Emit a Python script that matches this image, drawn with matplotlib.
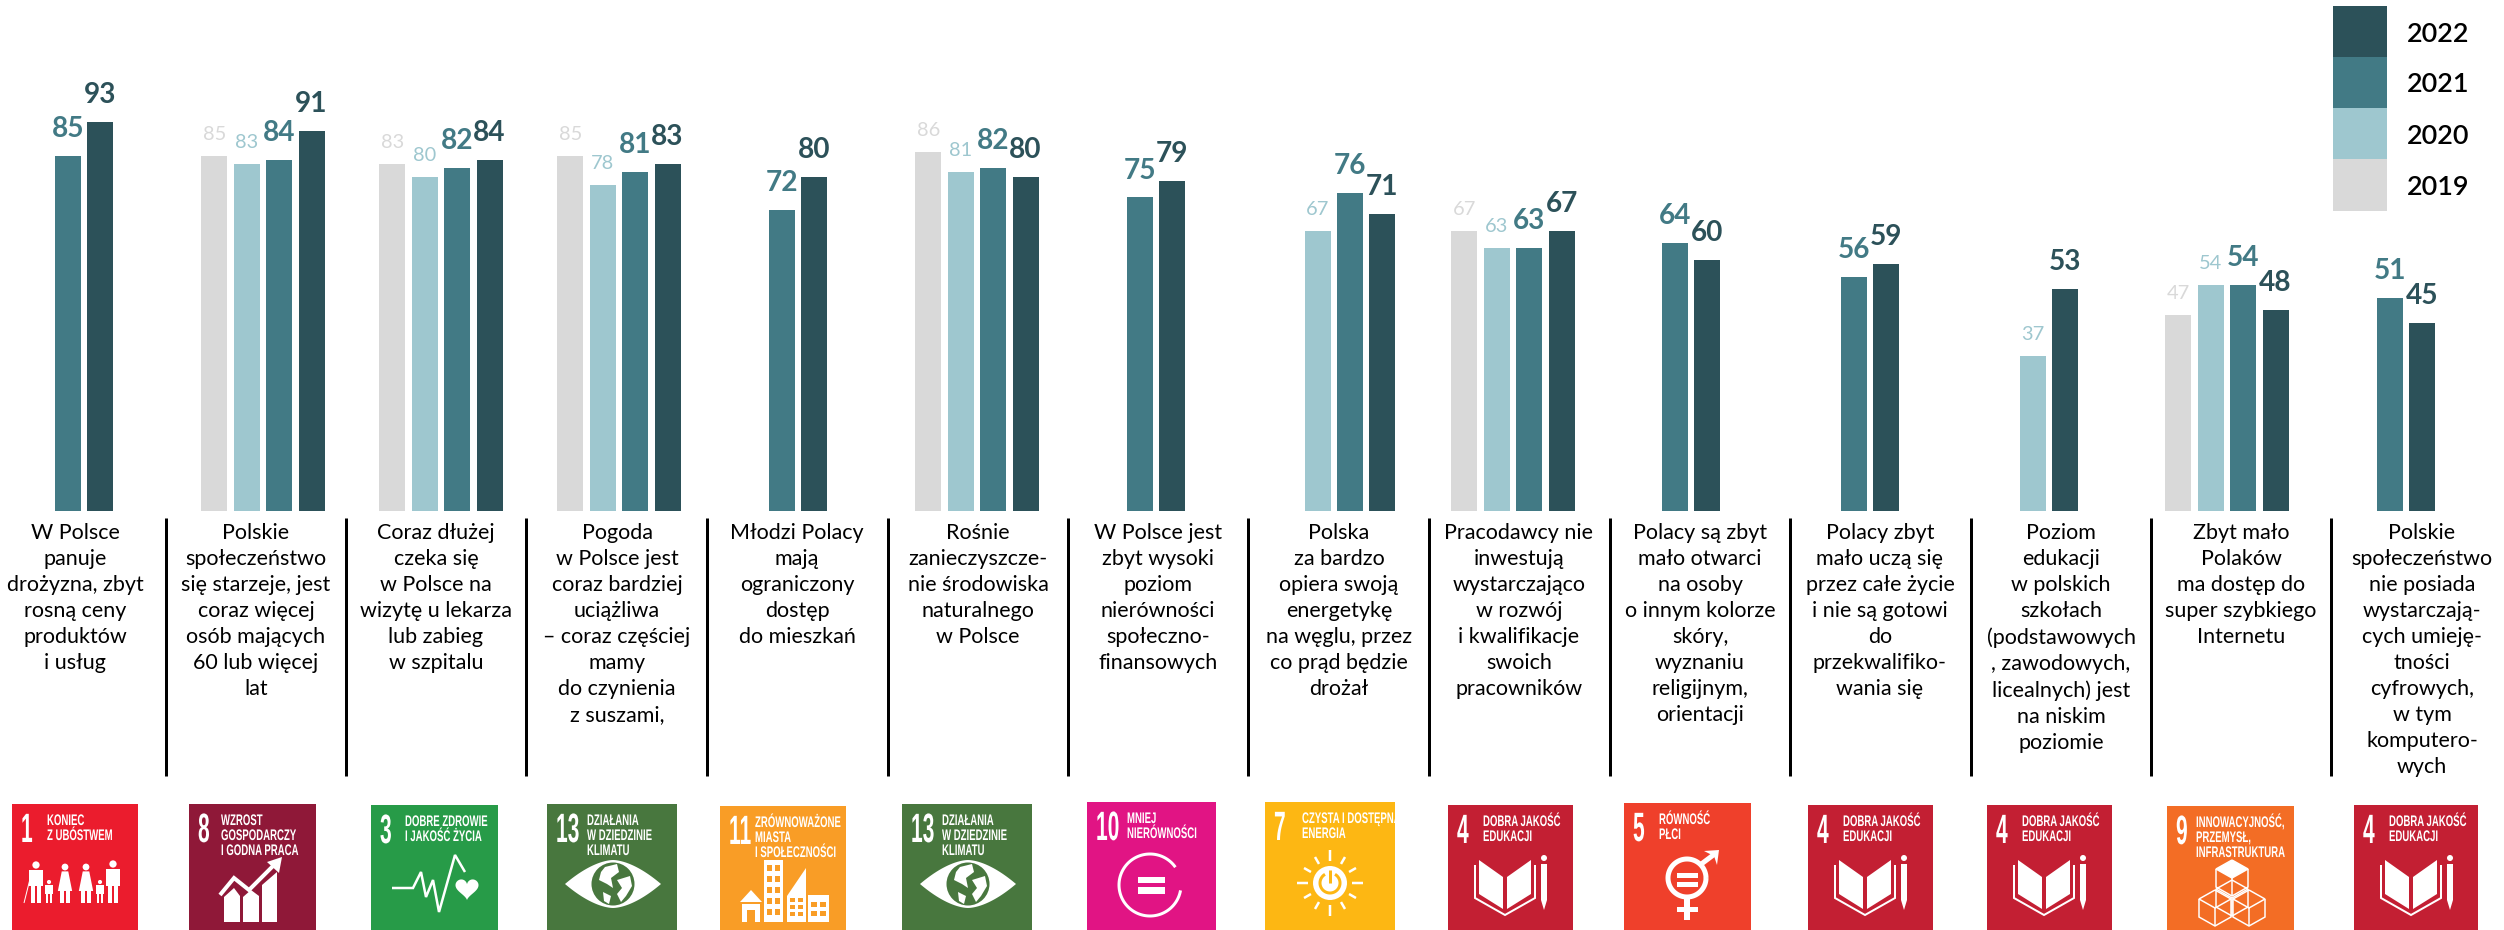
import numpy as np
import matplotlib
matplotlib.use('Agg')
import matplotlib.pyplot as plt
from matplotlib.patches import Rectangle, Polygon, Circle
from matplotlib.patheffects import AbstractPathEffect
from matplotlib.transforms import Affine2D

W, H = 2504, 930
BASE_Y = 511        # pixel row of the bars' baseline
PX_PER_UNIT = 4.18

plt.rcParams['font.family'] = ['Lato', 'DejaVu Sans']

years = ['2019', '2020', '2021', '2022']
year_colors = ['#D9D9D9', '#9EC7CF', '#427A85', '#2C5159']

values_2019 = [None, 85, 83, 85, None, 86, None, None, 67, None, None, None, 47, None]
values_2020 = [None, 83, 80, 78, None, 81, None, 67, 63, None, None, 37, 54, None]
values_2021 = [85, 84, 82, 81, 72, 82, 75, 76, 63, 64, 56, None, 54, 51]
values_2022 = [93, 91, 84, 83, 80, 80, 79, 71, 67, 60, 59, 53, 48, 45]
all_values = [values_2019, values_2020, values_2021, values_2022]

group_centers = [84, 263, 441, 619, 798, 977, 1156, 1350, 1513, 1691, 1870, 2049, 2227, 2406]
BAR_STEP = 32.4
BAR_WIDTH = 26

labels = [
    'W Polsce\npanuje\ndrożyzna, zbyt\nrosną ceny\nproduktów\ni usług',
    'Polskie\nspołeczeństwo\nsię starzeje, jest\ncoraz więcej\nosób mających\n60 lub więcej\nlat',
    'Coraz dłużej\nczeka się\nw Polsce na\nwizytę u lekarza\nlub zabieg\nw szpitalu',
    'Pogoda\nw Polsce jest\ncoraz bardziej\nuciążliwa\n– coraz częściej\nmamy\ndo czynienia\nz suszami,',
    'Młodzi Polacy\nmają\nograniczony\ndostęp\ndo mieszkań',
    'Rośnie\nzanieczyszcze-\nnie środowiska\nnaturalnego\nw Polsce',
    'W Polsce jest\nzbyt wysoki\npoziom\nnierówności\nspołeczno-\nfinansowych',
    'Polska\nza bardzo\nopiera swoją\nenergetykę\nna węglu, przez\nco prąd będzie\ndrożał',
    'Pracodawcy nie\ninwestują\nwystarczająco\nw rozwój\ni kwalifikacje\nswoich\npracowników',
    'Polacy są zbyt\nmało otwarci\nna osoby\no innym kolorze\nskóry,\nwyznaniu\nreligijnym,\norientacji',
    'Polacy zbyt\nmało uczą się\nprzez całe życie\ni nie są gotowi\ndo\nprzekwalifiko-\nwania się',
    'Poziom\nedukacji\nw polskich\nszkołach\n(podstawowych\n, zawodowych,\nlicealnych) jest\nna niskim\npoziomie',
    'Zbyt mało\nPolaków\nma dostęp do\nsuper szybkiego\nInternetu',
    'Polskie\nspołeczeństwo\nnie posiada\nwystarczają-\ncych umieję-\ntności\ncyfrowych,\nw tym\nkomputero-\nwych',
]
label_centers = [75, 256, 436, 617, 797, 978, 1158, 1339, 1519, 1700, 1880, 2061, 2241, 2422]
separators = [166, 346, 526, 707, 888, 1068, 1248, 1429, 1610, 1790, 1971, 2151, 2331]

# SDG tiles shown under the columns
tile_goals = [1, 8, 3, 13, 11, 13, 10, 7, 4, 5, 4, 4, 9, 4]
tile_lefts = [12, 189, 371, 547, 720, 902, 1087, 1265, 1448, 1624, 1808, 1987, 2167, 2354]
tile_rights = [138, 316, 498, 677, 846, 1032, 1216, 1395, 1573, 1751, 1933, 2112, 2294, 2478]
tile_tops = [804, 804, 805, 804, 806, 804, 802, 802, 805, 803, 805, 805, 806, 805]

goal_colors = {1: '#EB1C2D', 3: '#279B48', 4: '#C31F33', 5: '#EF402B', 7: '#FDB713', 8: '#8F1838',
               9: '#F36D25', 10: '#E11484', 11: '#F99D26', 13: '#48773E'}
goal_titles = {
    1: ['KONIEC', 'Z UBÓSTWEM'],
    3: ['DOBRE ZDROWIE', 'I JAKOŚĆ ŻYCIA'],
    4: ['DOBRA JAKOŚĆ', 'EDUKACJI'],
    5: ['RÓWNOŚĆ', 'PŁCI'],
    7: ['CZYSTA I DOSTĘPNA', 'ENERGIA'],
    8: ['WZROST', 'GOSPODARCZY', 'I GODNA PRACA'],
    9: ['INNOWACYJNOŚĆ,', 'PRZEMYSŁ,', 'INFRASTRUKTURA'],
    10: ['MNIEJ', 'NIERÓWNOŚCI'],
    11: ['ZRÓWNOWAŻONE', 'MIASTA', 'I SPOŁECZNOŚCI'],
    13: ['DZIAŁANIA', 'W DZIEDZINIE', 'KLIMATU'],
}
title_offsets = {1: 35, 3: 34, 4: 35, 5: 35, 7: 37, 8: 32, 9: 29, 10: 40, 11: 35, 13: 40}


class Tall(AbstractPathEffect):
    """Stretch glyphs upward from the baseline, the tiles use a very condensed face."""
    def __init__(self, sy):
        super().__init__()
        self.sy = sy

    def draw_path(self, renderer, gc, tpath, affine, rgbFace=None):
        renderer.draw_path(gc, tpath, Affine2D().scale(1, self.sy) + affine, rgbFace)


def px(v):
    return v * 0.72


fig = plt.figure(figsize=(W / 100, H / 100), dpi=100)

# bars live in their own axes so heights come from the value scale
ax = fig.add_axes([0, 1 - BASE_Y / H, 1, BASE_Y / H])
ax.set_xlim(0, W)
ax.set_ylim(0, BASE_Y / PX_PER_UNIT)
ax.axis('off')

for g, center in enumerate(group_centers):
    present = [i for i in range(4) if all_values[i][g] is not None]
    n = len(present)
    for k, i in enumerate(present):
        val = all_values[i][g]
        x = center + (k - (n - 1) / 2) * BAR_STEP
        ax.bar(x, val, width=BAR_WIDTH, color=year_colors[i], linewidth=0)
        big = i >= 2
        ax.annotate(str(val), (x, val), xytext=(0, px(19 if big else 16)), textcoords='offset points',
                    ha='center', va='baseline', color=year_colors[i],
                    fontsize=px(28) if big else px(20), fontweight='bold' if big else 'normal')

# overlay in pixel coordinates for everything else
ov = fig.add_axes([0, 0, 1, 1])
ov.set_xlim(0, W)
ov.set_ylim(H, 0)
ov.axis('off')
ov.patch.set_alpha(0)

for x, text in zip(label_centers, labels):
    ov.text(x, 523, text, ha='center', va='top', fontsize=px(21.5), color='black', linespacing=1.375)

for x in separators:
    ov.plot([x, x], [518, 776], color='black', lw=px(3), solid_capstyle='butt')

# legend swatches, newest on top
swatch_tops = [159, 108, 57, 6]
swatch_bottoms = [211, 159, 108, 57]
for i in range(4):
    ov.add_patch(Rectangle((2333, swatch_tops[i]), 54, swatch_bottoms[i] - swatch_tops[i],
                           color=year_colors[i], lw=0))
    ov.text(2407, (swatch_tops[i] + swatch_bottoms[i]) / 2 + 2.5, years[i], ha='left', va='center',
            fontsize=px(27), fontweight='semibold', color='black')


# --- tile pictograms, all coordinates relative to the tile corner ---
def poly(x0, y0, pts, color='white', **kw):
    ov.add_patch(Polygon([(x0 + a, y0 + b) for a, b in pts], closed=True, facecolor=color,
                         edgecolor='none', **kw))


def line(x0, y0, pts, lw=2, color='white', join='miter'):
    p = np.array(pts, dtype=float)
    ov.plot(x0 + p[:, 0], y0 + p[:, 1], color=color, lw=px(lw), solid_capstyle='butt',
            solid_joinstyle=join)


def circle(x0, y0, cx, cy, r, color='white'):
    ov.add_patch(Circle((x0 + cx, y0 + cy), r, facecolor=color, edgecolor='none'))


def ring(x0, y0, cx, cy, r, a0, a1, lw, color='white'):
    t = np.radians(np.linspace(a0, a1, 90))
    line(x0, y0, np.column_stack([cx + r * np.cos(t), cy - r * np.sin(t)]), lw=lw, color=color)


def person(x0, y0, cx, head, foot, w, dress=False):
    r = w * 0.26
    circle(x0, y0, cx, head, r)
    top = head + r + 1
    if dress:
        poly(x0, y0, [(cx - w * .25, top), (cx + w * .25, top), (cx + w * .55, top + (foot - top) * .62),
                      (cx - w * .55, top + (foot - top) * .62)])
    else:
        poly(x0, y0, [(cx - w * .5, top), (cx + w * .5, top), (cx + w * .5, top + (foot - top) * .5),
                      (cx - w * .5, top + (foot - top) * .5)])
    for s in (-1, 1):
        poly(x0, y0, [(cx + s * w * .07, top + (foot - top) * .4), (cx + s * w * .36, top + (foot - top) * .4),
                      (cx + s * w * .36, foot), (cx + s * w * .07, foot)])


def draw_goal1(x, y, w):
    person(x, y, 24, 61, 99, 14)
    person(x, y, 37, 78, 99, 8)
    person(x, y, 53, 63, 99, 13, dress=True)
    person(x, y, 74, 63, 99, 13, dress=True)
    person(x, y, 88, 78, 99, 8)
    person(x, y, 101, 60, 99, 14)
    line(x, y, [(18, 75), (12, 99)], lw=1)


def draw_goal3(x, y, w):
    line(x, y, [(21, 83), (42, 83), (50, 67), (55, 92), (62, 75), (68, 107), (84, 50), (94, 67)], lw=2.5)
    t = np.linspace(0, 2 * np.pi, 80)
    hx = 16 * np.sin(t) ** 3
    hy = -(13 * np.cos(t) - 5 * np.cos(2 * t) - 2 * np.cos(3 * t) - np.cos(4 * t))
    poly(x, y, list(zip(96 + hx * .72, 83 + hy * .72)))


def draw_goal4(x, y, w):
    poly(x, y, [(31, 55), (55, 72), (55, 104), (31, 89)])
    poly(x, y, [(83, 55), (59, 72), (59, 104), (83, 89)])
    line(x, y, [(27, 60), (27, 93), (57, 110), (87, 93), (87, 60)], lw=2)
    circle(x, y, 96, 53, 3)
    poly(x, y, [(93, 59), (99, 59), (99, 95), (96, 105), (93, 95)])


def draw_goal5(x, y, w):
    ring(x, y, 63, 75, 19, 0, 360, 5)
    poly(x, y, [(53, 70), (74, 70), (74, 75), (53, 75)])
    poly(x, y, [(53, 79), (74, 79), (74, 84), (53, 84)])
    poly(x, y, [(60, 96), (66, 96), (66, 117), (60, 117)])
    poly(x, y, [(53, 104), (74, 104), (74, 109), (53, 109)])
    line(x, y, [(76, 62), (92, 50)], lw=5)
    poly(x, y, [(80, 48), (95, 47), (93, 62), (90, 53)])


def draw_goal7(x, y, w):
    for a in range(0, 360, 30):
        t = np.radians(a)
        outer = 33 if a % 90 == 0 else 30
        line(x, y, [(65 + 22 * np.cos(t), 81 + 22 * np.sin(t)), (65 + outer * np.cos(t), 81 + outer * np.sin(t))],
             lw=2.5)
    circle(x, y, 65, 81, 17)
    color = goal_colors[7]
    ring(x, y, 65, 81, 10, 120, 420, 3, color=color)
    line(x, y, [(65, 68), (65, 81)], lw=3, color=color)


def draw_goal8(x, y, w):
    poly(x, y, [(35, 93), (45, 84), (51, 92), (51, 118), (35, 118)])
    poly(x, y, [(54, 93), (62, 86), (70, 92), (70, 118), (54, 118)])
    poly(x, y, [(73, 81), (88, 68), (88, 118), (73, 118)])
    line(x, y, [(31, 91), (45, 74), (60, 86), (86, 60)], lw=4)
    poly(x, y, [(78, 58), (93, 53), (90, 69)])


def draw_goal9(x, y, w):
    def cube(cx, cy, solid):
        hx, hy = 16, 9
        top = [(cx, cy - hy * 2), (cx + hx, cy - hy), (cx, cy), (cx - hx, cy - hy)]
        if solid:
            poly(x, y, top)
        line(x, y, top + [top[0]], lw=1.5)
        line(x, y, [(cx - hx, cy - hy), (cx - hx, cy + hy), (cx, cy + 2 * hy), (cx + hx, cy + hy),
                    (cx + hx, cy - hy)], lw=1.5)
        line(x, y, [(cx, cy), (cx, cy + 2 * hy)], lw=1.5)
    cube(65, 72, True)
    cube(65, 92, False)
    cube(48, 102, False)
    cube(82, 102, False)


def draw_goal10(x, y, w):
    ring(x, y, 63, 83, 31, 35, 350, 3)
    poly(x, y, [(51, 75), (78, 75), (78, 81), (51, 81)])
    poly(x, y, [(51, 85), (78, 85), (78, 92), (51, 92)])


def draw_goal11(x, y, w):
    color = goal_colors[11]
    poly(x, y, [(20, 96), (31, 84), (42, 96)])
    poly(x, y, [(22, 98), (40, 98), (40, 116), (35, 116), (35, 104), (27, 104), (27, 116), (22, 116)])
    poly(x, y, [(44, 54), (63, 54), (63, 116), (44, 116)])
    poly(x, y, [(67, 90), (86, 62), (86, 116), (67, 116)])
    poly(x, y, [(88, 89), (109, 89), (109, 116), (88, 116)])
    for wx in (47, 55):
        for wy in range(59, 112, 11):
            poly(x, y, [(wx, wy), (wx + 5, wy), (wx + 5, wy + 6), (wx, wy + 6)], color=color)
    for wx in (70, 78):
        for wy in range(92, 112, 7):
            poly(x, y, [(wx, wy), (wx + 5, wy), (wx + 5, wy + 4), (wx, wy + 4)], color=color)
    for wx in (91, 100):
        for wy in (96, 105):
            poly(x, y, [(wx, wy), (wx + 6, wy), (wx + 6, wy + 5), (wx, wy + 5)], color=color)


def draw_goal13(x, y, w):
    color = goal_colors[13]
    t = np.linspace(-1, 1, 60)
    upper = 80 - 24 * (1 - np.abs(t) ** 1.7)
    lower = 80 + 24 * (1 - np.abs(t) ** 1.7)
    xs = 66 + 48 * t
    poly(x, y, list(zip(xs, upper)) + list(zip(xs[::-1], lower[::-1])))
    circle(x, y, 66, 80, 21.5, color=color)
    # rough continents on the globe
    poly(x, y, [(58, 63), (70, 60), (72, 68), (64, 74), (66, 84), (60, 80), (52, 76), (54, 68)])
    poly(x, y, [(70, 76), (83, 72), (85, 82), (79, 92), (74, 98), (70, 90), (75, 84)])
    poly(x, y, [(56, 88), (64, 92), (62, 100), (57, 97)])


goal_drawers = {1: draw_goal1, 3: draw_goal3, 4: draw_goal4, 5: draw_goal5, 7: draw_goal7, 8: draw_goal8,
                9: draw_goal9, 10: draw_goal10, 11: draw_goal11, 13: draw_goal13}

NARROW_FONT = ['Liberation Sans Narrow', 'Liberation Sans', 'DejaVu Sans']

for goal, left, right, top in zip(tile_goals, tile_lefts, tile_rights, tile_tops):
    ov.add_patch(Rectangle((left, top), right - left, H - top, color=goal_colors[goal], lw=0))
    ov.text(left + 9, top + 38, str(goal), ha='left', va='baseline', color='white', family=NARROW_FONT,
            fontweight='bold', fontsize=px(21), path_effects=[Tall(1.95)])
    for k, t in enumerate(goal_titles[goal]):
        ov.text(left + title_offsets[goal], top + 21 + k * 15, t, ha='left', va='baseline', color='white',
                family=NARROW_FONT, fontweight='bold', fontsize=px(9.6), path_effects=[Tall(1.6)])
    goal_drawers[goal](left, top, right - left)

fig.savefig('out.png', dpi=100)
